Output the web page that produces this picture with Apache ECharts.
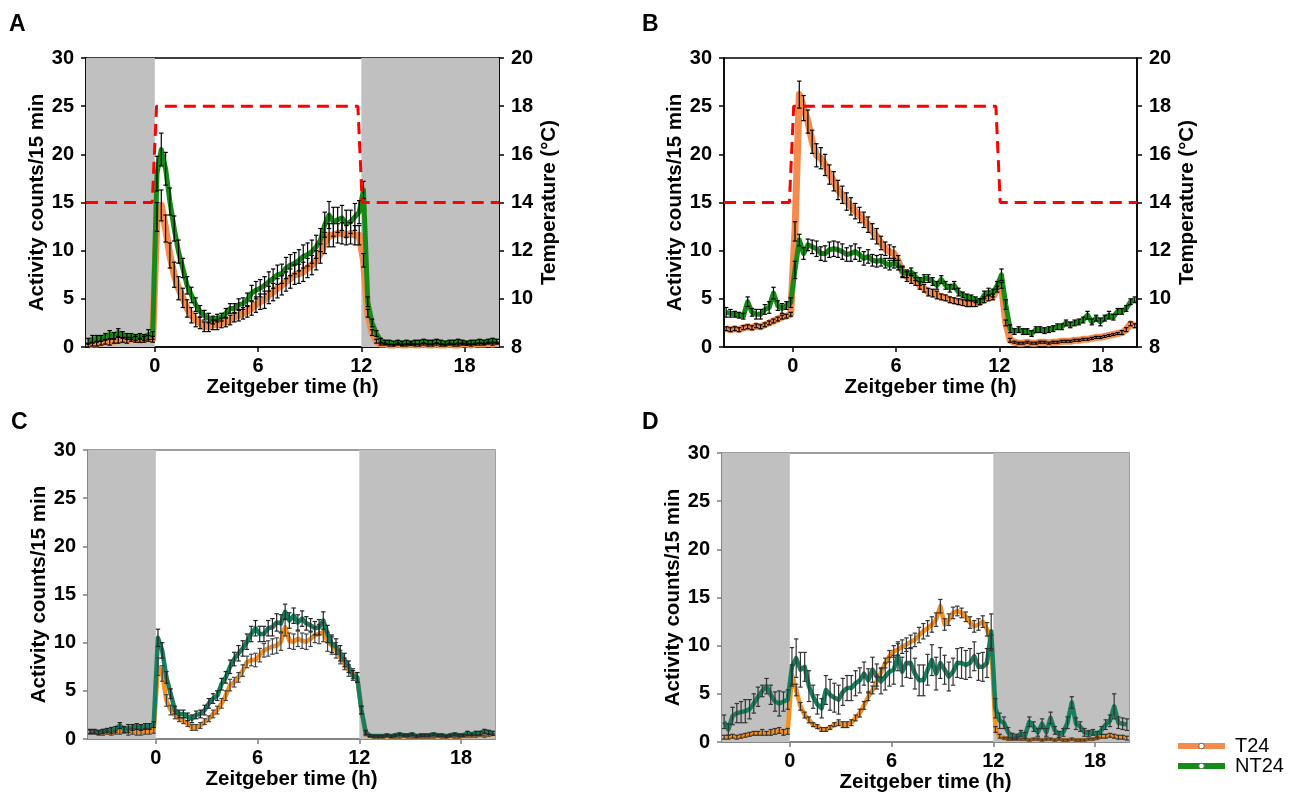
<!DOCTYPE html>
<html>
<head>
<meta charset="utf-8">
<script src="https://cdn.jsdelivr.net/npm/echarts@6/dist/echarts.min.js"></script>
<style>
html,body{margin:0;padding:0;background:#fff;}
#chart{width:1293px;height:796px;}
</style>
</head>
<body>
<div id="chart"></div>
<script>
// ---- Data: 15-min bins, first bin centre at ZT -3.875 ----
const binStart = -3.875;
const binWidth = 0.25;
const xTicks = [0, 6, 12, 18];
const panelLabels = ['A', 'B', 'C', 'D'];
const seriesNames = ['T24', 'NT24'];

// Temperature protocol (°C) for panels A and B
const tempA = [[-4, 14], [-0.15, 14], [0.1, 18], [11.8, 18], [12.05, 14], [20, 14]];
const tempB = [[-4, 14], [-0.2, 14], [0.05, 18], [11.8, 18], [12.05, 14], [20, 14]];

// Dark periods (ZT h)
const darkA = [[-4, 0], [12, 20]];
const darkC = [[-4, 0], [12, 20]];
const darkD = [[-4, 0], [12, 20]];

const A_T24 = [0.2,0.3,0.3,0.4,0.5,0.5,0.6,0.7,0.7,0.7,0.8,0.8,0.7,0.8,0.9,0.8,
 13.5,14.7,12.3,9.5,7.5,6.1,5.1,4.0,3.3,2.8,2.5,2.1,2.1,2.3,2.3,2.5,
 2.6,2.8,3.1,3.3,3.5,3.7,4.0,4.4,4.7,4.9,5.4,5.7,6.1,6.4,6.8,7.1,
 7.5,7.6,7.8,8.2,8.5,9.0,9.7,10.8,11.6,11.6,11.8,11.8,11.6,11.8,11.6,11.6,
 9.0,3.5,1.5,0.6,0.3,0.3,0.2,0.2,0.3,0.2,0.2,0.3,0.2,0.2,0.3,0.2,
 0.2,0.3,0.2,0.2,0.3,0.2,0.2,0.3,0.3,0.2,0.3,0.3,0.3,0.4,0.3,0.4];
const A_T24_err = [0.2,0.2,0.2,0.2,0.2,0.3,0.2,0.3,0.2,0.3,0.2,0.3,0.2,0.3,0.3,0.3,
 1.5,1.6,1.4,1.3,1.3,1.2,1.0,0.9,0.8,0.7,0.6,0.5,0.5,0.5,0.5,0.5,
 0.5,0.5,0.5,0.6,0.6,0.6,0.7,0.8,0.8,0.9,0.9,0.9,1.0,1.0,1.0,1.0,
 1.0,1.0,1.0,1.0,1.0,1.0,1.0,1.1,1.2,1.2,1.0,1.1,1.0,1.1,1.0,1.0,
 0.7,0.4,0.3,0.2,0.1,0.1,0.1,0.1,0.1,0.1,0.1,0.1,0.1,0.1,0.1,0.1,
 0.1,0.1,0.1,0.1,0.1,0.1,0.1,0.1,0.1,0.1,0.1,0.1,0.1,0.1,0.1,0.1];
const A_NT24 = [0.6,0.8,0.9,0.9,1.1,1.3,1.2,1.5,1.3,1.1,1.1,1.0,1.1,1.0,1.3,1.2,
 18.0,20.5,18.5,15.1,12.3,9.9,8.2,6.4,5.4,4.4,3.7,3.3,3.0,2.8,3.0,3.1,
 3.5,4.0,4.0,4.4,4.5,4.9,5.6,5.9,6.1,6.4,6.8,7.1,7.5,7.6,8.2,8.5,
 8.7,9.0,9.4,9.6,9.9,10.4,11.1,12.7,13.7,13.0,13.2,13.4,12.8,13.0,13.5,14.0,
 16.3,4.7,2.5,1.4,0.7,0.5,0.5,0.4,0.5,0.4,0.5,0.4,0.5,0.5,0.6,0.5,
 0.5,0.6,0.5,0.4,0.5,0.5,0.6,0.5,0.4,0.5,0.5,0.6,0.5,0.6,0.7,0.6];
const A_NT24_err = [0.3,0.4,0.3,0.3,0.3,0.4,0.3,0.4,0.3,0.3,0.3,0.3,0.3,0.3,0.5,0.4,
 1.8,1.7,1.7,1.4,1.3,1.2,1.0,0.9,0.8,0.7,0.6,0.5,0.5,0.4,0.4,0.4,
 0.5,0.5,0.5,0.6,0.6,0.7,0.8,0.9,0.9,0.9,1.0,1.0,1.0,1.0,1.1,1.1,
 1.1,1.1,1.2,1.2,1.2,1.2,1.2,1.3,1.4,1.5,1.3,1.3,1.4,1.2,1.4,1.2,
 0.9,0.5,0.4,0.3,0.2,0.2,0.2,0.2,0.2,0.2,0.2,0.2,0.2,0.2,0.2,0.2,
 0.2,0.2,0.2,0.2,0.2,0.2,0.2,0.2,0.2,0.2,0.2,0.2,0.2,0.2,0.2,0.2];

const B_T24 = [1.9,1.8,1.9,1.8,2.0,2.1,2.0,2.2,2.1,2.3,2.5,2.7,2.9,3.1,3.2,3.4,
 12.0,26.2,24.8,23.4,21.3,19.9,19.6,18.9,17.9,17.2,16.3,15.8,15.1,14.6,14.1,13.7,
 13.2,12.7,12.0,11.5,10.8,10.2,9.9,9.7,8.9,7.8,7.3,7.1,6.8,6.4,6.1,5.7,
 5.6,5.4,5.2,5.1,4.9,4.8,4.7,4.6,4.5,4.5,4.5,4.7,4.9,5.1,5.2,6.0,
 6.4,2.5,0.7,0.5,0.4,0.4,0.5,0.4,0.4,0.5,0.5,0.4,0.5,0.5,0.6,0.6,
 0.6,0.7,0.7,0.8,0.8,0.9,1.0,1.0,1.1,1.2,1.3,1.4,1.5,1.8,2.4,2.2];
const B_T24_err = [0.2,0.2,0.2,0.2,0.2,0.2,0.2,0.2,0.2,0.2,0.2,0.2,0.2,0.2,0.2,0.2,
 1.0,1.4,1.3,1.2,1.2,1.2,1.1,1.1,1.0,1.0,1.0,0.9,0.9,0.9,0.8,0.8,
 0.8,0.8,0.8,0.8,0.7,0.7,0.7,0.7,0.6,0.6,0.5,0.5,0.4,0.4,0.4,0.4,
 0.4,0.4,0.3,0.3,0.3,0.3,0.3,0.3,0.3,0.3,0.3,0.3,0.3,0.3,0.3,0.3,
 0.3,0.3,0.2,0.1,0.1,0.1,0.1,0.1,0.1,0.1,0.1,0.1,0.1,0.1,0.1,0.1,
 0.1,0.1,0.1,0.1,0.1,0.1,0.1,0.1,0.1,0.1,0.1,0.1,0.2,0.2,0.2,0.2];
const B_NT24 = [3.6,3.5,3.4,3.3,3.2,4.7,3.6,3.4,3.4,3.9,4.1,5.6,4.3,4.0,4.3,4.6,
 8.0,11.1,9.7,10.6,10.4,10.2,9.7,9.7,10.1,10.2,10.1,9.9,9.6,9.7,9.9,9.6,
 9.2,9.4,9.0,8.9,9.0,8.7,8.5,8.7,8.5,7.8,7.6,7.8,7.3,6.8,7.1,7.1,
 6.8,6.4,7.0,6.4,6.1,6.4,5.7,5.4,5.2,5.1,4.9,4.7,5.4,5.7,5.6,6.4,
 7.5,4.4,1.9,1.6,1.8,1.6,1.6,1.4,1.8,1.8,1.7,1.8,1.9,2.1,2.1,2.5,
 2.3,2.5,2.6,2.8,3.3,2.6,3.0,2.6,3.0,3.3,3.1,3.7,3.7,4.0,4.7,4.9];
const B_NT24_err = [0.5,0.4,0.3,0.3,0.3,0.5,0.4,0.5,0.5,0.5,0.6,0.6,0.5,0.5,0.4,0.5,
 0.9,0.6,0.6,0.6,0.7,0.8,0.7,0.8,0.8,0.8,0.8,0.8,0.7,0.8,0.8,0.7,
 0.7,0.7,0.6,0.6,0.6,0.5,0.5,0.5,0.5,0.5,0.4,0.4,0.4,0.4,0.4,0.4,
 0.4,0.4,0.4,0.4,0.4,0.4,0.4,0.3,0.3,0.3,0.3,0.3,0.4,0.4,0.4,0.4,
 0.6,0.5,0.4,0.3,0.3,0.3,0.3,0.3,0.3,0.3,0.3,0.3,0.3,0.3,0.3,0.3,
 0.3,0.3,0.3,0.3,0.4,0.3,0.3,0.4,0.3,0.4,0.3,0.3,0.3,0.3,0.3,0.3];

const C_T24 = [0.7,0.7,0.6,0.6,0.7,0.6,0.7,0.8,0.9,0.7,0.8,0.7,0.7,0.8,0.8,0.9,
 7.5,6.8,4.0,3.0,2.5,2.1,1.9,1.6,1.2,1.2,1.4,1.8,2.1,2.6,3.0,3.7,
 4.5,5.6,5.9,6.4,7.1,8.0,8.2,8.2,8.7,9.2,9.4,9.6,9.7,10.1,11.6,10.2,
 10.1,10.4,10.2,10.1,10.4,10.8,10.9,11.1,10.1,9.7,9.2,8.5,7.8,7.1,6.8,6.4,
 3.0,0.55,0.3,0.2,0.2,0.2,0.3,0.2,0.2,0.2,0.3,0.2,0.2,0.2,0.2,0.2,
 0.2,0.2,0.3,0.2,0.2,0.3,0.2,0.2,0.3,0.3,0.3,0.3,0.4,0.3,0.4,0.5];
const C_T24_err = [0.2,0.2,0.2,0.2,0.2,0.2,0.2,0.3,0.3,0.3,0.3,0.3,0.3,0.3,0.3,0.3,
 0.9,0.8,0.6,0.5,0.4,0.3,0.3,0.3,0.3,0.3,0.3,0.3,0.3,0.4,0.4,0.5,
 0.5,0.6,0.5,0.5,0.6,0.6,0.6,0.7,0.7,0.7,0.8,0.8,0.8,0.9,0.9,0.8,
 0.8,0.8,0.8,0.8,0.8,0.8,1.0,1.0,1.0,0.9,0.8,0.7,0.6,0.6,0.5,0.5,
 0.4,0.2,0.1,0.1,0.1,0.1,0.1,0.1,0.1,0.1,0.1,0.1,0.1,0.1,0.1,0.1,
 0.1,0.1,0.1,0.1,0.1,0.1,0.1,0.1,0.1,0.1,0.1,0.1,0.1,0.1,0.1,0.1];
const C_NT24 = [0.8,0.8,0.7,0.8,0.9,0.9,1.0,1.4,1.0,1.1,1.2,1.3,1.2,1.3,1.3,1.5,
 10.5,9.2,6.4,4.7,3.0,2.6,2.6,2.3,2.1,2.5,2.6,3.0,3.7,4.2,4.5,5.7,
 6.4,7.5,8.3,8.9,9.4,10.1,10.9,11.5,10.9,10.9,11.5,11.6,12.1,12.0,13.2,12.3,
 12.8,12.1,12.5,12.0,11.8,11.5,11.6,12.3,10.9,9.9,9.6,8.9,8.2,7.5,6.6,6.4,
 3.0,0.7,0.35,0.3,0.3,0.3,0.4,0.3,0.4,0.5,0.4,0.4,0.5,0.3,0.4,0.4,
 0.4,0.5,0.4,0.4,0.3,0.4,0.5,0.4,0.4,0.6,0.5,0.6,0.6,0.8,0.7,0.6];
const C_NT24_err = [0.2,0.2,0.2,0.2,0.2,0.3,0.3,0.3,0.3,0.4,0.3,0.3,0.3,0.3,0.3,0.3,
 0.9,0.8,0.6,0.5,0.4,0.4,0.4,0.4,0.4,0.4,0.4,0.5,0.5,0.5,0.5,0.6,
 0.6,0.7,0.7,0.8,0.8,0.8,0.8,0.8,0.8,0.8,0.8,0.9,0.9,0.9,0.8,0.8,
 0.8,0.8,0.8,0.7,0.7,0.7,0.8,0.9,0.9,0.9,0.8,0.8,0.7,0.6,0.5,0.5,
 0.4,0.2,0.1,0.1,0.1,0.1,0.1,0.1,0.1,0.1,0.1,0.1,0.1,0.1,0.1,0.1,
 0.1,0.1,0.1,0.1,0.1,0.1,0.1,0.1,0.1,0.2,0.1,0.2,0.2,0.2,0.2,0.2];

const D_T24 = [0.5,0.5,0.6,0.5,0.6,0.7,0.8,0.9,0.9,1.0,0.9,1.0,1.1,1.2,1.0,1.1,
 7.0,5.4,3.7,2.8,2.3,1.8,1.6,1.3,1.3,1.5,1.8,2.0,1.8,1.8,2.0,2.5,
 3.0,3.8,4.7,5.4,6.3,7.2,8.2,8.9,9.4,9.6,9.9,10.1,10.4,10.6,11.1,11.5,
 11.8,12.2,12.7,14.1,12.2,12.7,13.4,13.6,13.4,13.0,12.4,12.0,12.2,12.5,11.7,10.3,
 1.3,0.6,0.4,0.3,0.3,0.4,0.3,0.3,0.2,0.3,0.3,0.2,0.3,0.3,0.2,0.3,
 0.2,0.2,0.3,0.2,0.2,0.2,0.3,0.3,0.4,0.6,0.6,0.7,0.6,0.5,0.5,0.4];
const D_T24_err = [0.2,0.2,0.2,0.2,0.2,0.2,0.2,0.2,0.2,0.3,0.2,0.3,0.3,0.3,0.3,0.3,
 1.0,0.6,0.4,0.3,0.3,0.2,0.2,0.2,0.2,0.2,0.2,0.3,0.3,0.3,0.3,0.3,
 0.4,0.4,0.4,0.4,0.5,0.5,0.5,0.6,0.6,0.6,0.7,0.7,0.7,0.7,0.8,0.8,
 0.8,0.8,0.7,0.7,0.6,0.6,0.6,0.5,0.5,0.5,0.6,0.6,0.6,0.6,0.7,0.8,
 0.3,0.2,0.1,0.1,0.1,0.1,0.1,0.1,0.1,0.1,0.1,0.1,0.1,0.1,0.1,0.1,
 0.1,0.1,0.1,0.1,0.1,0.1,0.1,0.1,0.1,0.2,0.2,0.2,0.2,0.2,0.2,0.2];
const D_NT24 = [2.1,1.3,2.7,3.0,3.1,3.2,3.4,4.0,4.7,5.3,5.8,4.9,4.2,4.0,4.2,4.4,
 7.8,8.7,7.5,7.8,5.8,4.7,3.9,3.5,5.4,4.9,4.6,4.4,5.2,5.6,5.6,6.1,
 6.4,7.1,6.4,7.5,6.8,6.3,6.8,7.3,7.5,8.9,7.3,8.2,8.2,7.1,6.4,6.4,
 7.5,8.5,7.1,8.2,7.5,6.8,7.3,8.2,8.2,8.0,8.2,8.9,7.8,7.8,8.2,11.5,
 3.5,2.2,2.0,1.0,0.6,0.5,0.9,0.7,2.1,1.6,1.0,1.9,1.0,2.5,1.2,0.8,
 1.0,2.0,4.1,1.9,1.6,1.0,0.9,1.0,0.8,1.2,1.8,2.2,3.7,2.0,1.9,1.8];
const D_NT24_err = [0.7,0.6,0.9,1.0,1.1,1.2,1.0,1.0,1.0,0.6,0.8,1.0,1.0,1.3,1.0,1.0,
 2.0,2.0,1.8,1.5,1.6,1.2,1.0,1.0,1.5,1.6,1.5,1.5,1.4,1.3,1.3,1.3,
 1.3,1.2,1.2,1.3,1.3,1.3,1.4,1.5,1.5,1.5,1.5,1.5,1.6,1.6,1.6,1.6,
 1.6,1.6,1.7,1.6,1.5,1.5,1.4,1.5,1.6,1.5,1.5,1.5,1.4,1.5,1.5,1.8,
 1.0,0.8,0.6,0.5,0.3,0.3,0.3,0.3,0.5,0.5,0.4,0.5,0.4,0.6,0.4,0.3,
 0.4,0.6,0.6,0.6,0.5,0.4,0.3,0.3,0.3,0.4,0.5,0.6,1.3,0.6,0.6,0.6];

// ---- Styling ----
const FONT = 'Liberation Sans, Arial, sans-serif';
const colAB = {T24: '#F58B4C', NT24: '#178B17'};
const colCD = {T24: '#F7901E', NT24: '#177F60'};

const panels = [
  {grid: {left: 86, top: 58, width: 413, height: 289}, T24: A_T24, T24e: A_T24_err, NT24: A_NT24, NT24e: A_NT24_err,
   col: colAB, widths: [7, 5], axisColor: '#000', border: '#000', errColor: ['#000', '#000'], dark: darkA, temp: tempA, label: [4, 8]},
  {grid: {left: 724, top: 58, width: 413, height: 289}, T24: B_T24, T24e: B_T24_err, NT24: B_NT24, NT24e: B_NT24_err,
   col: colAB, widths: [7, 5], axisColor: '#000', border: '#000', errColor: ['#000', '#000'], dark: null, temp: tempB, label: [637, 8]},
  {grid: {left: 88, top: 450, width: 407, height: 289}, T24: C_T24, T24e: C_T24_err, NT24: C_NT24, NT24e: C_NT24_err,
   col: colCD, widths: [4.5, 4.5], axisColor: '#7f7f7f', border: '#7f7f7f', errColor: ['#444', '#222'], dark: darkC, temp: null, label: [6, 406]},
  {grid: {left: 722, top: 453, width: 407, height: 289}, T24: D_T24, T24e: D_T24_err, NT24: D_NT24, NT24e: D_NT24_err,
   col: colCD, widths: [4.5, 4.5], axisColor: '#7f7f7f', border: '#7f7f7f', errColor: ['#333', '#333'], dark: darkD, temp: null, label: [637, 406]}
];

const xOf = i => binStart + binWidth * i;
const toPairs = arr => arr.map((v, i) => [xOf(i), v]);
const toErr = (arr, err) => arr.map((v, i) => [xOf(i), v, err[i]]);

const labelStyle = {fontFamily: FONT, fontWeight: 'bold', fontSize: 20, color: '#000'};

const grids = [], xAxes = [], yAxes = [], series = [], titles = [];
const rightAxisIndex = {};

panels.forEach((p, g) => {
  grids.push(Object.assign({show: true, borderColor: p.border, borderWidth: 1.5, backgroundColor: 'transparent'}, p.grid));
  xAxes.push({
    gridIndex: g, type: 'value', min: -4, max: 20,
    axisLine: {show: true, onZero: false, lineStyle: {color: p.axisColor, width: 1.5}},
    axisTick: {show: true, customValues: xTicks, length: 5, lineStyle: {color: p.axisColor, width: 1.5}},
    axisLabel: Object.assign({customValues: xTicks, margin: 9}, labelStyle),
    splitLine: {show: false},
    name: 'Zeitgeber time (h)', nameLocation: 'middle', nameGap: 29,
    nameTextStyle: Object.assign({}, labelStyle, {fontSize: 20.5})
  });
  yAxes.push({
    gridIndex: g, type: 'value', min: 0, max: 30, interval: 5, position: 'left',
    axisLine: {show: true, onZero: false, lineStyle: {color: p.axisColor, width: 1.5}},
    axisTick: {show: true, length: 5, lineStyle: {color: p.axisColor, width: 1.5}},
    axisLabel: Object.assign({margin: 12}, labelStyle),
    splitLine: {show: false},
    name: 'Activity counts/15 min', nameLocation: 'middle', nameGap: 38,
    nameTextStyle: Object.assign({}, labelStyle, {fontSize: 20.5})
  });
});
panels.forEach((p, g) => {
  if (p.temp) {
    rightAxisIndex[g] = yAxes.length;
    yAxes.push({
      gridIndex: g, type: 'value', min: 8, max: 20, interval: 2, position: 'right',
      axisLine: {show: true, onZero: false, lineStyle: {color: '#000', width: 1.5}},
      axisTick: {show: true, length: 5, lineStyle: {color: '#000', width: 1.5}},
      axisLabel: Object.assign({margin: 12}, labelStyle),
      splitLine: {show: false},
      name: 'Temperature (°C)', nameLocation: 'middle', nameGap: 40,
      nameTextStyle: Object.assign({}, labelStyle, {fontSize: 20.5})
    });
  }
});

function errRenderer(color) {
  return function (params, api) {
    const x = api.value(0), y = api.value(1), e = api.value(2);
    const hi = api.coord([x, Math.min(30, y + e)]);
    const lo = api.coord([x, Math.max(0, y - e)]);
    const w = 2.2;
    const st = {stroke: color, lineWidth: 1.2};
    return {type: 'group', children: [
      {type: 'line', shape: {x1: hi[0], y1: hi[1], x2: lo[0], y2: lo[1]}, style: st},
      {type: 'line', shape: {x1: hi[0] - w, y1: hi[1], x2: hi[0] + w, y2: hi[1]}, style: st},
      {type: 'line', shape: {x1: lo[0] - w, y1: lo[1], x2: lo[0] + w, y2: lo[1]}, style: st}
    ]};
  };
}

// Line series first (A first so the legend uses panel A colours)
panels.forEach((p, g) => {
  seriesNames.forEach((nm, k) => {
    series.push({
      name: nm, type: 'line', xAxisIndex: g, yAxisIndex: g, data: toPairs(p[nm]),
      showSymbol: false, symbol: 'circle', symbolSize: 6, smooth: false,
      lineStyle: {color: p.col[nm], width: p.widths[k], join: 'round'},
      itemStyle: {color: '#fff', borderColor: '#666', borderWidth: 1},
      z: 3 + k, silent: true, animation: false
    });
  });
});
panels.forEach((p, g) => {
  seriesNames.forEach((nm, k) => {
    series.push({
      name: nm + ' SEM ' + panelLabels[g], type: 'custom', xAxisIndex: g, yAxisIndex: g,
      data: toErr(p[nm], p[nm + 'e']), renderItem: errRenderer(p.errColor[k]),
      encode: {x: 0, y: 1}, z: 6, silent: true, animation: false
    });
  });
  if (p.dark) {
    series.push({
      name: 'dark ' + panelLabels[g], type: 'line', xAxisIndex: g, yAxisIndex: g,
      data: [[-4, 0]], showSymbol: false, lineStyle: {opacity: 0}, z: 1, silent: true, animation: false,
      markArea: {silent: true, itemStyle: {color: '#C0C0C0'},
        data: p.dark.map(d => [{xAxis: d[0]}, {xAxis: d[1]}])}
    });
  }
  if (p.temp) {
    series.push({
      name: 'Temperature ' + panelLabels[g], type: 'line', xAxisIndex: g, yAxisIndex: rightAxisIndex[g],
      data: p.temp, showSymbol: false, z: 8, silent: true, animation: false,
      lineStyle: {color: '#FF0000', width: 3, type: [12, 7]}
    });
  }
  titles.push({text: panelLabels[g], left: p.label[0], top: p.label[1],
    textStyle: {fontFamily: FONT, fontWeight: 'bold', fontSize: 23, color: '#000'}});
});

const option = {
  animation: false,
  backgroundColor: '#fff',
  title: titles,
  grid: grids,
  xAxis: xAxes,
  yAxis: yAxes,
  legend: {
    data: seriesNames, orient: 'vertical', left: 1175, top: 736, padding: 0,
    width: 118, height: 52,
    itemWidth: 47, itemHeight: 7, itemGap: 0, selectedMode: false,
    lineStyle: {width: 6},
    itemStyle: {color: '#fff', borderColor: '#666', borderWidth: 1},
    textStyle: {fontFamily: FONT, fontSize: 20, color: '#000', lineHeight: 16, padding: [0, 0, 0, 5]}
  },
  series: series
};

const chart = echarts.init(document.getElementById('chart'), null, {renderer: 'canvas'});
chart.setOption(option);
</script>
</body>
</html>
